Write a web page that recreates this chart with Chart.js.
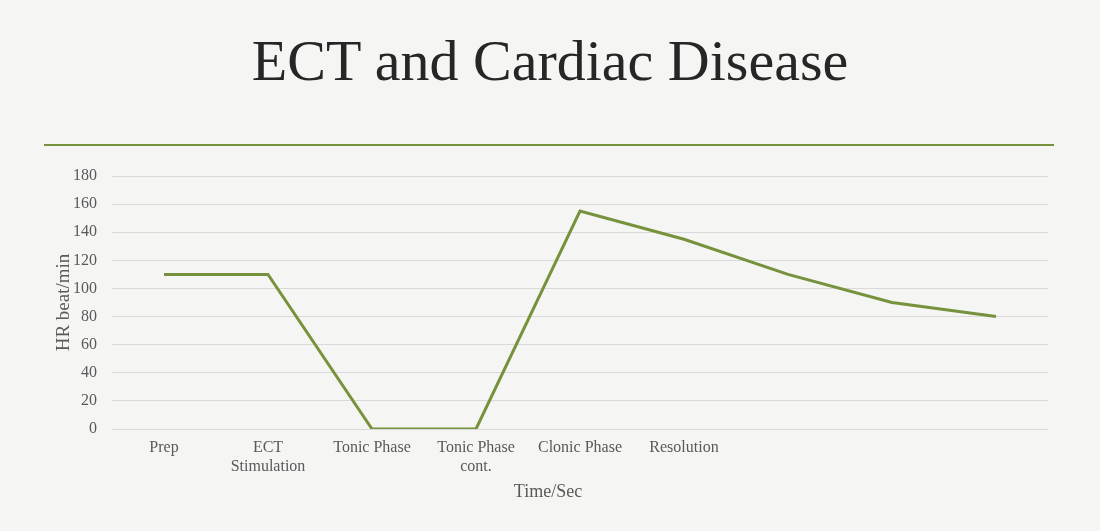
<!DOCTYPE html>
<html>
<head>
<meta charset="utf-8">
<script src="https://cdn.jsdelivr.net/npm/chart.js@4/dist/chart.umd.min.js"></script>
<style>
  html, body { margin: 0; padding: 0; }
  body { width: 1100px; height: 531px; background: #f5f5f3; position: relative; overflow: hidden; }
  #title {
    position: absolute; left: 0; top: 26px; width: 1100px; text-align: center;
    font-family: 'Liberation Serif', 'Times New Roman', serif; font-size: 58px; color: #262626;
    line-height: 70px; margin: 0; font-weight: normal;
  }
  #rule { position: absolute; left: 44px; top: 144px; width: 1010px; height: 2px; background: #76923c; }
  #chart { position: absolute; left: 0; top: 150px; }
</style>
</head>
<body>
<h1 id="title">ECT and Cardiac Disease</h1>
<div id="rule"></div>
<canvas id="chart" width="1100" height="381"></canvas>
<script>
const categories = ['Prep', ['ECT', 'Stimulation'], 'Tonic Phase', ['Tonic Phase', 'cont.'], 'Clonic Phase', 'Resolution', '', '', ''];
const heartRate = [110, 110, 0, 0, 155, 135, 110, 90, 80];
const yTicks = [0, 20, 40, 60, 80, 100, 120, 140, 160, 180];
const xTitle = 'Time/Sec';

const FONT = "'Liberation Serif', 'Times New Roman', serif";
const TEXT = '#595959';

// x axis title sits centred on the whole canvas, not on the plot area
const xTitlePlugin = {
  id: 'xTitle',
  afterDraw(chart) {
    const ctx = chart.ctx;
    ctx.save();
    ctx.font = `18px ${FONT}`;
    ctx.fillStyle = TEXT;
    ctx.textAlign = 'center';
    ctx.textBaseline = 'middle';
    ctx.fillText(xTitle, chart.width / 2 - 2, 342);
    ctx.restore();
  },
};

new Chart(document.getElementById('chart'), {
  type: 'line',
  data: {
    labels: categories,
    datasets: [{
      label: 'HR',
      data: heartRate,
      borderColor: '#76923c',
      borderWidth: 3,
      pointRadius: 0,
      tension: 0,
      fill: false,
    }],
  },
  plugins: [xTitlePlugin],
  options: {
    responsive: false,
    animation: false,
    devicePixelRatio: 1,
    layout: { padding: { left: 49, right: 52, top: 26, bottom: 26 } },
    plugins: { legend: { display: false }, tooltip: { enabled: false } },
    scales: {
      x: {
        offset: true,
        grid: { display: false, drawTicks: false },
        border: { display: false },
        ticks: { color: TEXT, font: { family: FONT, size: 16, lineHeight: 1.15 }, padding: 10, maxRotation: 0, autoSkip: false },
        afterFit: s => { s.height = 76; },
      },
      y: {
        min: 0,
        max: 180,
        afterBuildTicks: s => { s.ticks = yTicks.map(v => ({ value: v })); },
        grid: { color: '#d9d9d9', lineWidth: 1, drawTicks: false },
        border: { display: false },
        ticks: { color: TEXT, font: { family: FONT, size: 16 }, padding: 15 },
        title: { display: true, text: 'HR beat/min', color: TEXT, font: { family: FONT, size: 19 }, padding: { top: 4, bottom: 2 } },
        afterFit: s => { s.width = 63; },
      },
    },
  },
});
</script>
</body>
</html>
